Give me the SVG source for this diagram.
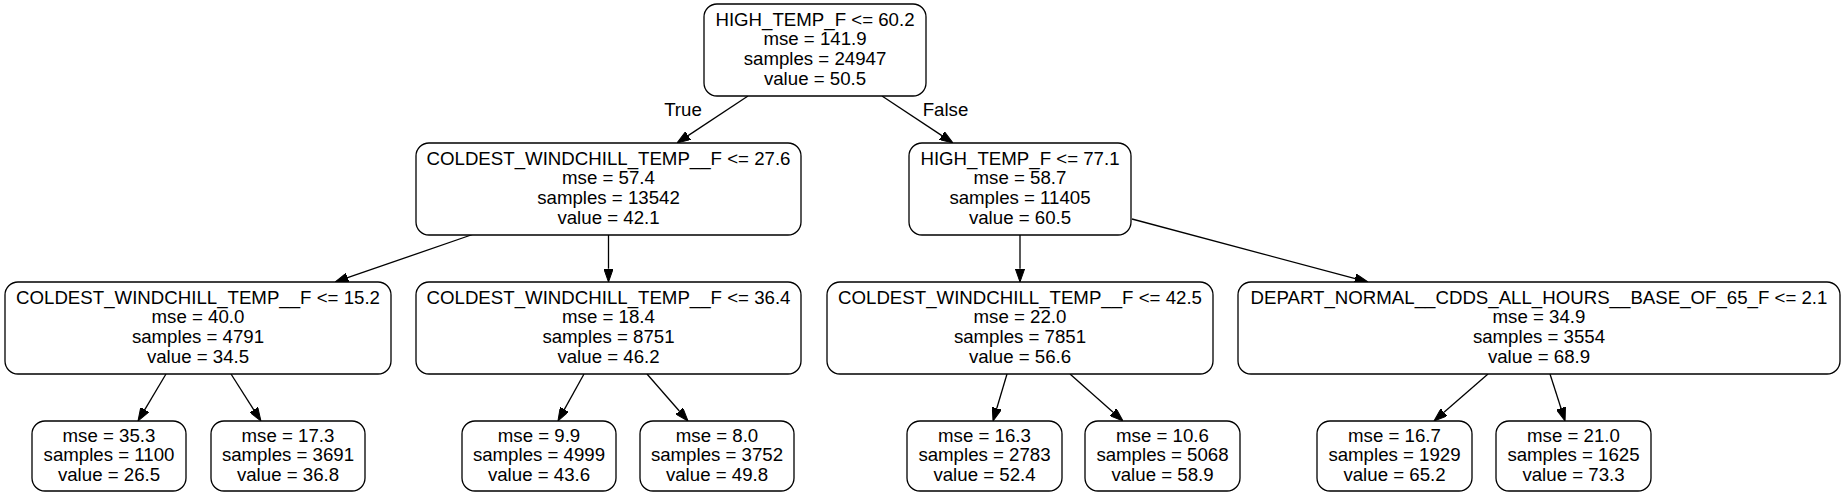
<svg xmlns="http://www.w3.org/2000/svg" width="1845" height="497" viewBox="0 0 1845 497">
<style>
.n rect{fill:#fff;stroke:#000;stroke-width:1.3}
text{font-family:"Liberation Sans",Arial,Helvetica,sans-serif;font-size:18.67px;fill:#000;text-anchor:middle}
.e line{stroke:#000;stroke-width:1.3}
</style>
<defs>
<marker id="ah" viewBox="0 0 13.3 9.4" refX="0" refY="4.7" markerWidth="13.3" markerHeight="9.4" markerUnits="userSpaceOnUse" orient="auto">
<path d="M0,0 L13.3,4.7 L0,9.4 z" fill="#000" stroke="#000" stroke-width="1"/>
</marker>
</defs>
<rect width="1845" height="497" fill="#fff"/>
<g id="connectors" class="e">
<line x1="748" y1="96" x2="688.1" y2="135.65" marker-end="url(#ah)"/>
<line x1="882" y1="96" x2="941.9" y2="135.65" marker-end="url(#ah)"/>
<line x1="474" y1="234" x2="347.6" y2="277.7" marker-end="url(#ah)"/>
<line x1="608.5" y1="235" x2="608.5" y2="268.7" marker-end="url(#ah)"/>
<line x1="1020" y1="235" x2="1020" y2="268.7" marker-end="url(#ah)"/>
<line x1="1132" y1="219" x2="1355.2" y2="278.6" marker-end="url(#ah)"/>
<line x1="166" y1="374" x2="144.8" y2="409.6" marker-end="url(#ah)"/>
<line x1="231" y1="374" x2="253.8" y2="409.8" marker-end="url(#ah)"/>
<line x1="584" y1="374" x2="564.4" y2="409.4" marker-end="url(#ah)"/>
<line x1="647" y1="374" x2="679.3" y2="411.0" marker-end="url(#ah)"/>
<line x1="1007" y1="374" x2="996.8" y2="408.3" marker-end="url(#ah)"/>
<line x1="1070" y1="374" x2="1113.1" y2="412.2" marker-end="url(#ah)"/>
<line x1="1488" y1="374" x2="1444.0" y2="412.3" marker-end="url(#ah)"/>
<line x1="1550" y1="374" x2="1561.0" y2="408.3" marker-end="url(#ah)"/>
<text x="683" y="116">True</text>
<text x="945.5" y="116">False</text>
</g>
<g id="node0" class="n">
<rect x="704" y="4" width="222" height="92" rx="13"/>
<text x="815" y="25.5">HIGH_TEMP_F &lt;= 60.2</text>
<text x="815" y="45.3">mse = 141.9</text>
<text x="815" y="65.2">samples = 24947</text>
<text x="815" y="85">value = 50.5</text>
</g>
<g id="node1" class="n">
<rect x="416" y="143" width="385" height="92" rx="13"/>
<text x="608.5" y="164.5">COLDEST_WINDCHILL_TEMP__F &lt;= 27.6</text>
<text x="608.5" y="184.3">mse = 57.4</text>
<text x="608.5" y="204.2">samples = 13542</text>
<text x="608.5" y="224">value = 42.1</text>
</g>
<g id="node8" class="n">
<rect x="909" y="143" width="222" height="92" rx="13"/>
<text x="1020" y="164.5">HIGH_TEMP_F &lt;= 77.1</text>
<text x="1020" y="184.3">mse = 58.7</text>
<text x="1020" y="204.2">samples = 11405</text>
<text x="1020" y="224">value = 60.5</text>
</g>
<g id="node2" class="n">
<rect x="5" y="282" width="386" height="92" rx="13"/>
<text x="198" y="303.5">COLDEST_WINDCHILL_TEMP__F &lt;= 15.2</text>
<text x="198" y="323.3">mse = 40.0</text>
<text x="198" y="343.2">samples = 4791</text>
<text x="198" y="363">value = 34.5</text>
</g>
<g id="node5" class="n">
<rect x="416" y="282" width="385" height="92" rx="13"/>
<text x="608.5" y="303.5">COLDEST_WINDCHILL_TEMP__F &lt;= 36.4</text>
<text x="608.5" y="323.3">mse = 18.4</text>
<text x="608.5" y="343.2">samples = 8751</text>
<text x="608.5" y="363">value = 46.2</text>
</g>
<g id="node9" class="n">
<rect x="827" y="282" width="386" height="92" rx="13"/>
<text x="1020" y="303.5">COLDEST_WINDCHILL_TEMP__F &lt;= 42.5</text>
<text x="1020" y="323.3">mse = 22.0</text>
<text x="1020" y="343.2">samples = 7851</text>
<text x="1020" y="363">value = 56.6</text>
</g>
<g id="node12" class="n">
<rect x="1238" y="282" width="602" height="92" rx="13"/>
<text x="1539" y="303.5">DEPART_NORMAL__CDDS_ALL_HOURS__BASE_OF_65_F &lt;= 2.1</text>
<text x="1539" y="323.3">mse = 34.9</text>
<text x="1539" y="343.2">samples = 3554</text>
<text x="1539" y="363">value = 68.9</text>
</g>
<g id="node3" class="n">
<rect x="32" y="421" width="154" height="70" rx="13"/>
<text x="109" y="441.5">mse = 35.3</text>
<text x="109" y="461.3">samples = 1100</text>
<text x="109" y="481">value = 26.5</text>
</g>
<g id="node4" class="n">
<rect x="211" y="421" width="154" height="70" rx="13"/>
<text x="288" y="441.5">mse = 17.3</text>
<text x="288" y="461.3">samples = 3691</text>
<text x="288" y="481">value = 36.8</text>
</g>
<g id="node6" class="n">
<rect x="462" y="421" width="154" height="70" rx="13"/>
<text x="539" y="441.5">mse = 9.9</text>
<text x="539" y="461.3">samples = 4999</text>
<text x="539" y="481">value = 43.6</text>
</g>
<g id="node7" class="n">
<rect x="640" y="421" width="154" height="70" rx="13"/>
<text x="717" y="441.5">mse = 8.0</text>
<text x="717" y="461.3">samples = 3752</text>
<text x="717" y="481">value = 49.8</text>
</g>
<g id="node10" class="n">
<rect x="907" y="421" width="155" height="70" rx="13"/>
<text x="984.5" y="441.5">mse = 16.3</text>
<text x="984.5" y="461.3">samples = 2783</text>
<text x="984.5" y="481">value = 52.4</text>
</g>
<g id="node11" class="n">
<rect x="1085" y="421" width="155" height="70" rx="13"/>
<text x="1162.5" y="441.5">mse = 10.6</text>
<text x="1162.5" y="461.3">samples = 5068</text>
<text x="1162.5" y="481">value = 58.9</text>
</g>
<g id="node13" class="n">
<rect x="1317" y="421" width="155" height="70" rx="13"/>
<text x="1394.5" y="441.5">mse = 16.7</text>
<text x="1394.5" y="461.3">samples = 1929</text>
<text x="1394.5" y="481">value = 65.2</text>
</g>
<g id="node14" class="n">
<rect x="1496" y="421" width="155" height="70" rx="13"/>
<text x="1573.5" y="441.5">mse = 21.0</text>
<text x="1573.5" y="461.3">samples = 1625</text>
<text x="1573.5" y="481">value = 73.3</text>
</g>
</svg>
